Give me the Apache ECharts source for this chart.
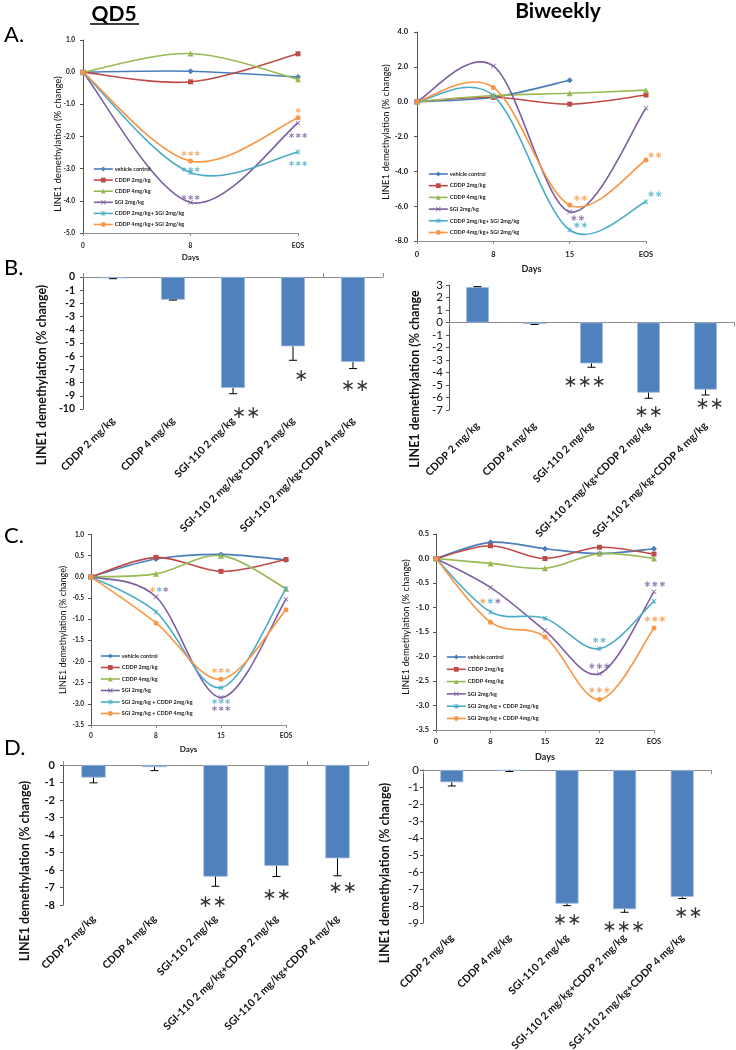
<!DOCTYPE html>
<html><head><meta charset="utf-8">
<script src="https://cdn.jsdelivr.net/npm/echarts@6/dist/echarts.min.js"></script>
<style>html,body{margin:0;padding:0;background:#fff}#c{width:736px;height:1050px}</style>
</head><body><div id="c"></div><script>
// ---------- DATA ----------
const seriesNamesA = ['vehicle control','CDDP 2mg/kg','CDDP 4mg/kg','SGI 2mg/kg','CDDP 2mg/kg+ SGI 2mg/kg','CDDP 4mg/kg+ SGI 2mg/kg'];
const seriesNamesC = ['vehicle control','CDDP 2mg/kg','CDDP 4mg/kg','SGI 2mg/kg','SGI 2mg/kg + CDDP 2mg/kg','SGI 2mg/kg + CDDP 4mg/kg'];
const daysAQd5 = ['0','8','EOS'];
const daysABiw = ['0','8','15','EOS'];
const daysCQd5 = ['0','8','15','EOS'];
const daysCBiw = ['0','8','15','22','EOS'];

// Panel A, QD5
const aQd5Vehicle  = [0, 0.03, -0.15];
const aQd5Cddp2    = [0, -0.30, 0.57];
const aQd5Cddp4    = [0, 0.58, -0.22];
const aQd5Sgi      = [0, -4.05, -1.58];
const aQd5Cddp2Sgi = [0, -3.12, -2.48];
const aQd5Cddp4Sgi = [0, -2.76, -1.42];
// Panel A, Biweekly
const aBiwVehicle  = [0, 0.25, 1.23, null];
const aBiwCddp2    = [0, 0.25, -0.14, 0.38];
const aBiwCddp4    = [0, 0.35, 0.48, 0.66];
const aBiwSgi      = [0, 2.05, -6.32, -0.38];
const aBiwCddp2Sgi = [0, 0.35, -7.37, -5.75];
const aBiwCddp4Sgi = [0, 0.82, -5.94, -3.35];
// Panel C, QD5
const cQd5Vehicle   = [0, 0.42, 0.53, 0.40];
const cQd5Cddp2     = [0, 0.46, 0.13, 0.41];
const cQd5Cddp4     = [0, 0.07, 0.50, -0.28];
const cQd5Sgi       = [0, -0.47, -2.85, -0.53];
const cQd5SgiCddp2  = [0, -0.83, -2.62, -0.28];
const cQd5SgiCddp4  = [0, -1.09, -2.42, -0.78];
// Panel C, Biweekly
const cBiwVehicle   = [0, 0.33, 0.20, 0.10, 0.20];
const cBiwCddp2     = [0, 0.26, 0.00, 0.23, 0.09];
const cBiwCddp4     = [0, -0.10, -0.20, 0.10, 0.00];
const cBiwSgi       = [0, -0.59, -1.47, -2.35, -0.68];
const cBiwSgiCddp2  = [0, -1.09, -1.22, -1.84, -0.87];
const cBiwSgiCddp4  = [0, -1.30, -1.60, -2.88, -1.42];

// Bar panels B and D
const barCategories = ['CDDP 2 mg/kg','CDDP 4 mg/kg','SGI-110 2 mg/kg','SGI-110 2 mg/kg+CDDP 2 mg/kg','SGI-110 2 mg/kg+CDDP 4 mg/kg'];
const bQd5Values = [-0.10, -1.72, -8.41, -5.25, -6.44];
const bQd5Errors = [0.03, 0.03, 0.43, 1.06, 0.50];
const bBiwValues = [2.83, -0.12, -3.27, -5.61, -5.37];
const bBiwErrors = [0.04, 0.04, 0.31, 0.45, 0.43];
const dQd5Values = [-0.72, -0.12, -6.38, -5.77, -5.33];
const dQd5Errors = [0.30, 0.20, 0.55, 0.60, 1.00];
const dBiwValues = [-0.72, -0.04, -7.86, -8.19, -7.46];
const dBiwErrors = [0.22, 0.05, 0.12, 0.18, 0.10];

// Significance marks: [category, value, stars, colour(s)]
const sigAQd5 = [['8',-2.53,3,'o'],['8',-3.03,3,'c'],['8',-3.90,3,'p'],['EOS',-1.19,1,'o'],['EOS',-1.97,3,'p'],['EOS',-2.84,3,'c']];
const sigABiw = [['15',-5.59,2,'o'],['15',-6.73,2,'p'],['15',-7.14,2,'c'],['EOS',-3.12,2,'o'],['EOS',-5.36,2,'c']];
const sigCQd5 = [['8',-0.31,3,'ocp'],['15',-2.23,3,'o'],['15',-2.96,3,'c'],['15',-3.13,3,'p']];
const sigCBiw = [['8',-0.89,3,'ocp'],['22',-1.68,2,'c'],['22',-2.20,3,'p'],['22',-2.69,3,'o'],['EOS',-0.53,3,'p'],['EOS',-1.24,3,'o']];
const sigBQd5 = [[2,-10.38,2,'k'],[3,-7.58,1,'k'],[4,-8.33,2,'k']];
const sigBBiw = [[2,-4.84,3,'k'],[3,-7.24,2,'k'],[4,-6.60,2,'k']];
const sigDQd5 = [[2,-7.89,2,'k'],[3,-7.49,2,'k'],[4,-7.09,2,'k']];
const sigDBiw = [[2,-8.85,2,'k'],[3,-9.26,3,'k'],[4,-8.44,2,'k']];

// ---------- STYLE ----------
const FONT = 'Lato, "Liberation Sans", sans-serif';
const palette = {o:'#F79646', c:'#4BACC6', p:'#7D60A0', k:'#000'};
// horizontal nudges (px) of the significance labels, per panel
const sigNudge = {
  aQd5:[0,0,0,0,0,0], aBiw:[11,8,11,9,9], cQd5:[3,0,0,0], cBiw:[0,0,0,0,1,1],
  bQd5:[13,8,2], bBiw:[-7,0,4], dQd5:[-3,0,5], dBiw:[0,-1,6]
};
const xPath = 'path://M0,1L1,0L5,4L9,0L10,1L6,5L10,9L9,10L5,6L1,10L0,9L4,5Z';
const starPath = 'path://M0,1L1,0L5,4L9,0L10,1L6,5L10,9L9,10L5,6L1,10L0,9L4,5Z M4.4,0L5.6,0L5.6,10L4.4,10Z';
const lineStyles = [
  {color:'#4A7EBB', symbol:'diamond', size:6},
  {color:'#BE4B48', symbol:'rect', size:5},
  {color:'#98B954', symbol:'triangle', size:6},
  {color:'#7D60A0', symbol:xPath, size:5},
  {color:'#4BACC6', symbol:starPath, size:5},
  {color:'#F79646', symbol:'circle', size:5}
];
const BAR_COLOR = '#4F81BD';
const LINE_W = 1.6;

const grids = [
  {left:83,  top:40,    width:215, height:193},   // 0 A QD5
  {left:417, top:32,    width:229, height:209},   // 1 A Biw
  {left:83,  top:277,   width:300, height:132},   // 2 B QD5
  {left:449, top:285,   width:285, height:125},   // 3 B Biw
  {left:91,  top:534.5, width:195, height:190.5}, // 4 C QD5
  {left:436, top:534,   width:218, height:196},   // 5 C Biw
  {left:63,  top:765,   width:305, height:140},   // 6 D QD5
  {left:423, top:770,   width:288, height:153}    // 7 D Biw
].map(g => Object.assign({outerBoundsMode:'none', containLabel:false}, g));

const xAxes = [], yAxes = [], series = [];

function lineXAxis(grid, cats, lblSize, lblMargin, nameSize, nameGap){
  xAxes.push({type:'category', gridIndex:grid, data:cats, boundaryGap:false, position:'bottom',
    axisLine:{onZero:false, lineStyle:{color:'#8c8c8c', width:1}},
    axisTick:{show:true, length:3, inside:false, lineStyle:{color:'#8c8c8c'}},
    axisLabel:{fontSize:lblSize, fontWeight:'bold', color:'#222', margin:lblMargin, fontFamily:FONT},
    splitLine:{show:false},
    name:'Days', nameLocation:'middle', nameGap:nameGap,
    nameTextStyle:{fontSize:nameSize, fontWeight:'bold', color:'#222', fontFamily:FONT}});
  return xAxes.length-1;
}
function valYAxis(grid, min, max, interval, lblSize, bold, margin, dec){
  yAxes.push({type:'value', gridIndex:grid, min, max, interval,
    axisLine:{show:true, onZero:false, lineStyle:{color:'#555', width:1}},
    axisTick:{show:true, length:3, lineStyle:{color:'#555'}},
    splitLine:{show:false},
    axisLabel:{fontSize:lblSize, fontWeight:bold?'bold':'normal', color:'#111', margin, fontFamily:FONT,
      formatter: v => dec ? v.toFixed(dec) : String(Math.round(v))}});
  return yAxes.length-1;
}
// Excel-like smoothing (Catmull-Rom through the points, computed in pixel space)
function catmull(p){
  let d = 'M' + p[0][0] + ',' + p[0][1];
  for (let i = 0; i < p.length - 1; i++){
    const p0 = p[i-1] || p[i], p1 = p[i], p2 = p[i+1], p3 = p[i+2] || p[i+1];
    const c1 = [p1[0] + (p2[0]-p0[0])/6, p1[1] + (p2[1]-p0[1])/6];
    const c2 = [p2[0] - (p3[0]-p1[0])/6, p2[1] - (p3[1]-p1[1])/6];
    d += ' C' + c1[0] + ',' + c1[1] + ' ' + c2[0] + ',' + c2[1] + ' ' + p2[0] + ',' + p2[1];
  }
  return d;
}
function lineSeries(xi, yi, names, arrays){
  arrays.forEach((arr, i) => {
    const st = lineStyles[i];
    series.push({type:'custom', xAxisIndex:xi, yAxisIndex:yi, silent:true, animation:false, z:1,
      data: arr.map((v, k) => [k, v]), encode:{x:0, y:1},
      renderItem:(params, api) => {
        if (params.dataIndex !== 0) return null;
        let d = '', seg = [];
        const flush = () => { if (seg.length > 1) d += catmull(seg) + ' '; seg = []; };
        arr.forEach((v, k) => { if (v == null) flush(); else seg.push(api.coord([k, v])); });
        flush();
        return {type:'path', shape:{pathData:d}, style:{stroke:st.color, fill:null, lineWidth:LINE_W}};
      }});
    series.push({type:'line', name:names[i], xAxisIndex:xi, yAxisIndex:yi, data:arr,
      connectNulls:false, symbol:st.symbol, symbolSize:st.size, showSymbol:true,
      lineStyle:{color:st.color, width:0, opacity:0}, itemStyle:{color:st.color}, z:2, animation:false});
  });
}
function starsText(n, cols){
  if (cols.length > 1) return cols.split('').map(c => '{' + c + '|\u2217}').join('');
  return '{' + cols + '|' + Array(n).fill('\u2217').join('') + '}';
}
function sigSeries(xi, yi, items, nudge, fontSize, weight){
  const rich = {};
  Object.keys(palette).forEach(k => rich[k] = {color:palette[k], fontSize, fontWeight:weight, fontFamily:'"DejaVu Sans", sans-serif'});
  series.push({type:'scatter', xAxisIndex:xi, yAxisIndex:yi, silent:true, clip:false, z:10,
    symbol:'circle', symbolSize:1, itemStyle:{color:'rgba(0,0,0,0)'}, animation:false,
    label:{show:true, position:'inside', rich, formatter: p => starsText(p.data.n, p.data.cols)},
    data: items.map((it, i) => ({value:[it[0], it[1]], n:it[2], cols:it[3],
      label:{offset:[nudge[i] || 0, 0]}}))});
}
function barPanel(grid, values, errors, tickInside, lblMargin, yMin, yMax, lblSize, lblBold, yMargin, sig, nudge){
  xAxes.push({type:'category', gridIndex:grid, data:barCategories, position:'bottom',
    axisLine:{show:true, onZero:true, lineStyle:{color:'#8c8c8c'}},
    axisTick:{show:true, inside:tickInside, length:4, alignWithLabel:false, lineStyle:{color:'#8c8c8c'}},
    axisLabel:{show:false}, splitLine:{show:false}});
  const xi = xAxes.length-1;
  xAxes.push({type:'category', gridIndex:grid, data:barCategories, position:'bottom',
    axisLine:{show:false, onZero:false}, axisTick:{show:false},
    axisLabel:{show:true, rotate:45, interval:0, fontSize:10.5, fontWeight:'bold', color:'#111', margin:lblMargin, fontFamily:FONT},
    splitLine:{show:false}});
  const xl = xAxes.length-1;
  const yi = valYAxis(grid, yMin, yMax, 1, lblSize, lblBold, yMargin, 0);
  series.push({type:'bar', xAxisIndex:xi, yAxisIndex:yi, data:values, barWidth:'40%',
    itemStyle:{color:BAR_COLOR, borderColor:'#9DB9DE', borderWidth:0.8}, animation:false, z:2});
  series.push({type:'line', xAxisIndex:xl, yAxisIndex:yi, data:values.map(()=>null), silent:true, showSymbol:false});
  series.push({type:'custom', xAxisIndex:xi, yAxisIndex:yi, animation:false, z:3, silent:true,
    data: values.map((v,i) => [i, v, errors[i]]),
    encode:{x:0, y:1},
    renderItem:(params, api) => {
      const x = api.value(0), v = api.value(1), e = api.value(2);
      const end = v >= 0 ? v + e : v - e;
      const p0 = api.coord([x, v]), p1 = api.coord([x, end]);
      const hw = 4;
      return {type:'group', children:[
        {type:'line', shape:{x1:p0[0], y1:p0[1], x2:p1[0], y2:p1[1]}, style:{stroke:'#000', lineWidth:1}},
        {type:'line', shape:{x1:p1[0]-hw, y1:p1[1], x2:p1[0]+hw, y2:p1[1]}, style:{stroke:'#000', lineWidth:1}}
      ]};
    }});
  sigSeries(xi, yi, sig.map(s => [barCategories[s[0]], s[1], s[2], s[3]]), nudge, 17, 'normal');
}

// A QD5
{ const xi = lineXAxis(0, daysAQd5, 6.5, 9, 8, 20);
  const yi = valYAxis(0, -5, 1, 1, 6.5, true, 8, 1);
  lineSeries(xi, yi, seriesNamesA, [aQd5Vehicle, aQd5Cddp2, aQd5Cddp4, aQd5Sgi, aQd5Cddp2Sgi, aQd5Cddp4Sgi]);
  sigSeries(xi, yi, sigAQd5, sigNudge.aQd5, 8, 'bold'); }
// A Biweekly
{ const xi = lineXAxis(1, daysABiw, 7.5, 10, 9, 24);
  const yi = valYAxis(1, -8, 4, 2, 7.5, true, 9, 1);
  lineSeries(xi, yi, seriesNamesA, [aBiwVehicle, aBiwCddp2, aBiwCddp4, aBiwSgi, aBiwCddp2Sgi, aBiwCddp4Sgi]);
  sigSeries(xi, yi, sigABiw, sigNudge.aBiw, 9, 'bold'); }
// B
barPanel(2, bQd5Values, bQd5Errors, true, 10, -10, 0, 10.5, true, 8, sigBQd5, sigNudge.bQd5);
barPanel(3, bBiwValues, bBiwErrors, false, 14, -7, 3, 11.5, false, 6, sigBBiw, sigNudge.bBiw);
// C QD5
{ const xi = lineXAxis(4, daysCQd5, 6.5, 7.5, 8, 20);
  const yi = valYAxis(4, -3.5, 1, 0.5, 6.5, true, 7, 1);
  lineSeries(xi, yi, seriesNamesC, [cQd5Vehicle, cQd5Cddp2, cQd5Cddp4, cQd5Sgi, cQd5SgiCddp2, cQd5SgiCddp4]);
  sigSeries(xi, yi, sigCQd5, sigNudge.cQd5, 8, 'bold'); }
// C Biweekly
{ const xi = lineXAxis(5, daysCBiw, 7.5, 8, 9, 23);
  const yi = valYAxis(5, -3.5, 0.5, 0.5, 7.5, true, 7, 1);
  lineSeries(xi, yi, seriesNamesC, [cBiwVehicle, cBiwCddp2, cBiwCddp4, cBiwSgi, cBiwSgiCddp2, cBiwSgiCddp4]);
  sigSeries(xi, yi, sigCBiw, sigNudge.cBiw, 9, 'bold'); }
// D
barPanel(6, dQd5Values, dQd5Errors, true, 12, -8, 0, 11, true, 8, sigDQd5, sigNudge.dQd5);
barPanel(7, dBiwValues, dBiwErrors, false, 13, -9, 0, 11.5, false, 4, sigDBiw, sigNudge.dBiw);

function legendAt(left, top, names, gap){
  return {orient:'vertical', left, top, padding:0, itemWidth:19, itemHeight:6, itemGap:gap,
    data:names, selectedMode:false,
    lineStyle:{width:LINE_W, opacity:1},
    textStyle:{fontSize:5.5, fontWeight:'bold', color:'#222', lineHeight:6, fontFamily:FONT, padding:[0,0,0,-3]}};
}
const legends = [
  legendAt(93, 166, seriesNamesA, 5.1),
  legendAt(428, 171, seriesNamesA, 5.7),
  legendAt(100, 653, seriesNamesC, 5.5),
  legendAt(446, 654, seriesNamesC, 6.3)
];

const yTitle = 'LINE1 demethylation (% change)';
function vText(x, y, text, size, weight){
  return {type:'text', x, y, rotation:Math.PI/2, silent:true,
    style:{text, fontSize:size, fontWeight:weight, fill:'#111', fontFamily:FONT, align:'center', verticalAlign:'middle'}};
}
function hText(x, y, text, size, weight, align){
  return {type:'text', x, y, silent:true,
    style:{text, fontSize:size, fontWeight:weight, fill:'#000', fontFamily:FONT, align:align||'center', verticalAlign:'middle'}};
}
const graphics = [
  hText(114, 14, 'QD5', 21, 'bold'),
  {type:'line', silent:true, shape:{x1:90, y1:24, x2:139, y2:24}, style:{stroke:'#000', lineWidth:1.6}},
  hText(558, 11, 'Biweekly', 21, 'bold'),
  hText(4, 35, 'A.', 22, 'normal', 'left'),
  hText(4, 268, 'B.', 22, 'normal', 'left'),
  hText(4, 536, 'C.', 22, 'normal', 'left'),
  hText(4, 748, 'D.', 22, 'normal', 'left'),
  vText(58, 144, yTitle, 9.5, 'normal'),
  vText(386, 132, yTitle, 9.5, 'normal'),
  vText(42, 375, yTitle, 12.5, 'bold'),
  vText(415, 379, 'LINE1 demethylation (% change', 12.5, 'bold'),
  vText(63, 630, yTitle, 9, 'normal'),
  vText(406, 627, yTitle, 9.5, 'normal'),
  vText(25, 871, yTitle, 12.5, 'bold'),
  vText(385, 873, yTitle, 12.5, 'bold')
];

const chart = echarts.init(document.getElementById('c'), null, {renderer:'canvas'});
chart.setOption({
  animation:false,
  backgroundColor:'#fff',
  textStyle:{fontFamily:FONT},
  grid:grids, xAxis:xAxes, yAxis:yAxes, series, legend:legends, graphic:graphics,
  tooltip:{show:false}
});
</script></body></html>
